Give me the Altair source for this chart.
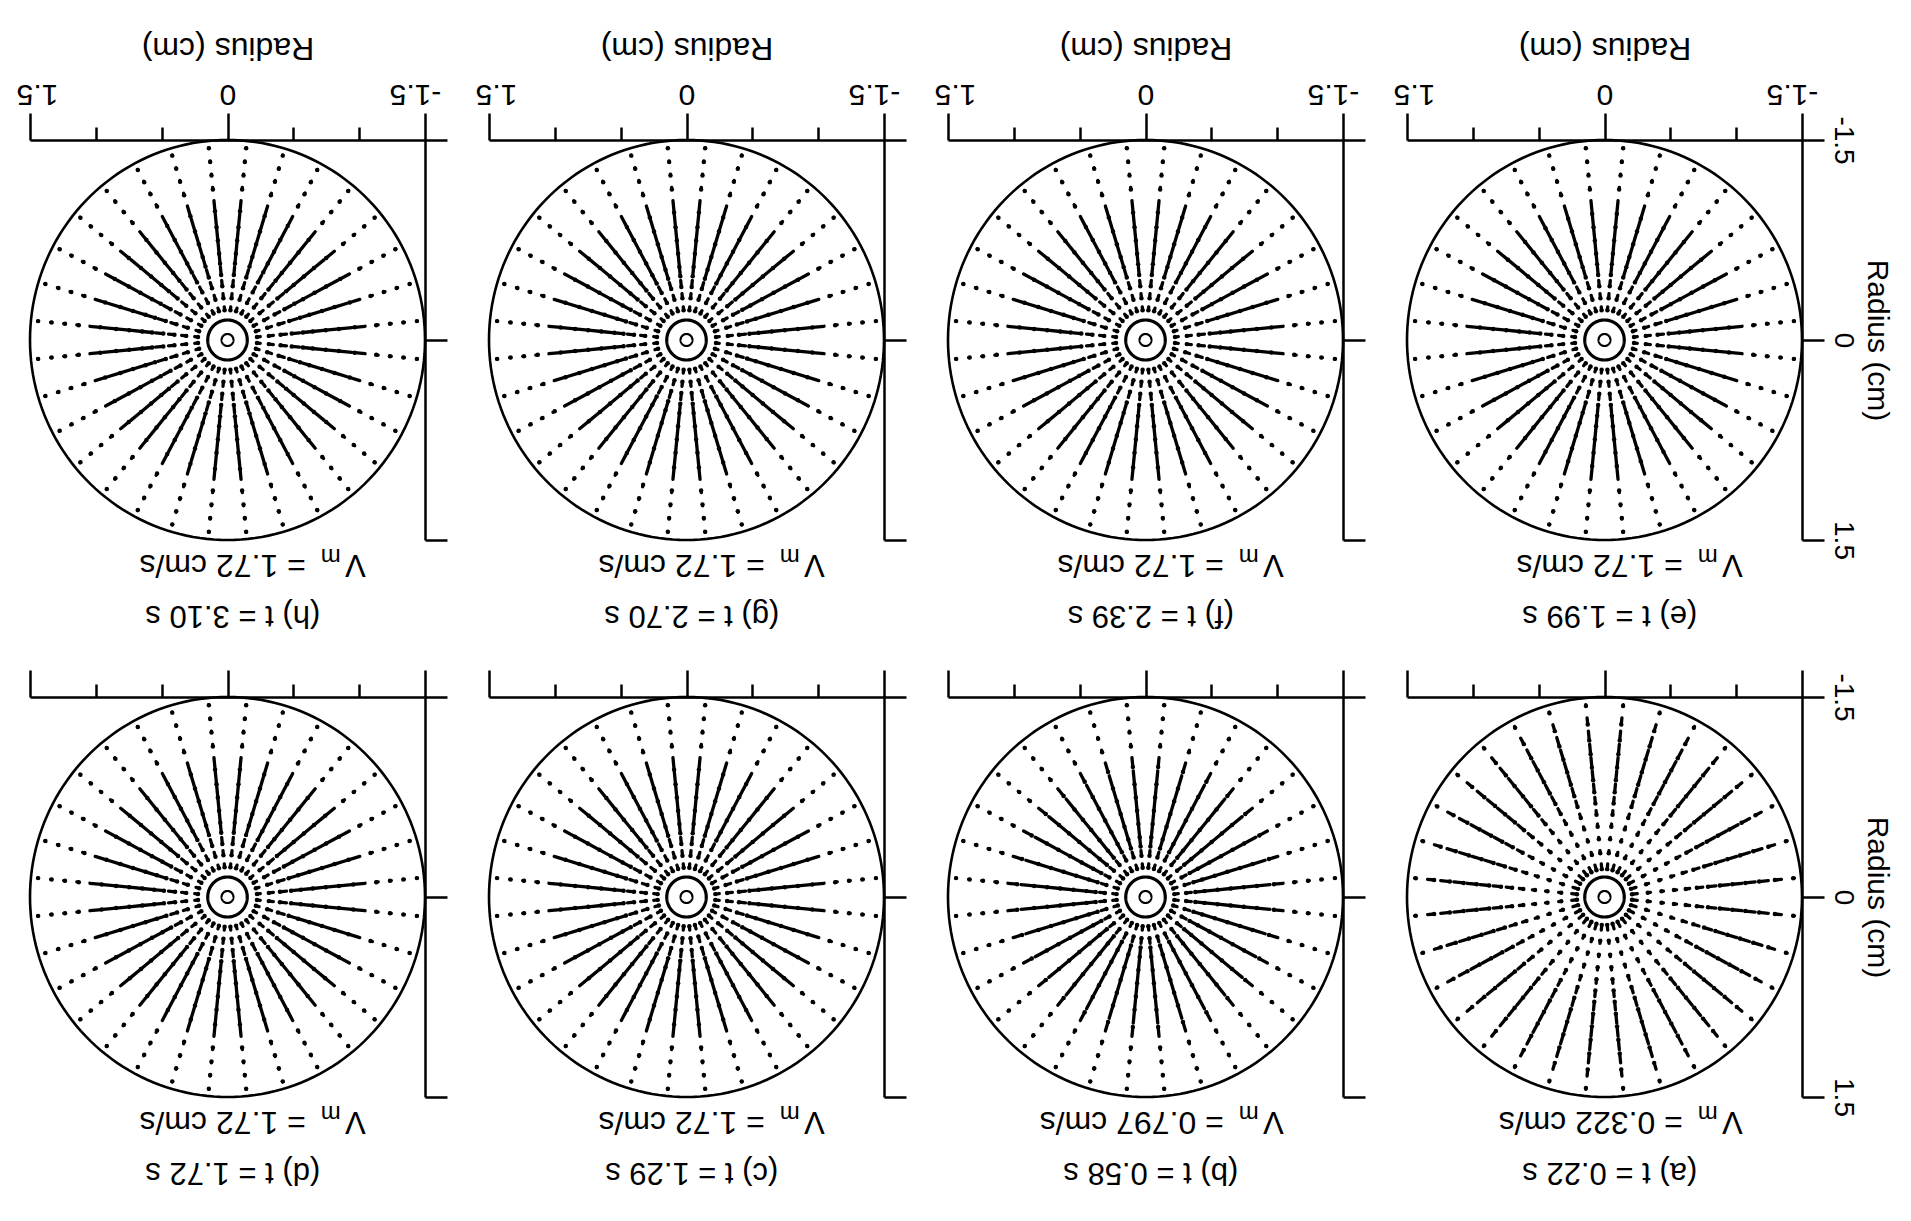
import math
import altair as alt
import pandas as pd

FONT = "Liberation Sans"

# ---------------- data ----------------
PANEL_IDS = ["h", "g", "f", "e", "d", "c", "b", "a"]          # grid order: top row, then bottom row
TIMES = ["3.10", "2.70", "2.39", "1.99", "1.72", "1.29", "0.58", "0.22"]
VMAX = ["1.72", "1.72", "1.72", "1.72", "1.72", "1.72", "0.797", "0.322"]

# radial grid positions (cm) of the velocity vectors and ray directions (deg)
GRID_R = [0.25, 0.35, 0.45, 0.55, 0.65, 0.75, 0.85, 0.95, 1.05, 1.15, 1.25, 1.35, 1.45]
RAY_DEG = [5.625 + 11.25 * k for k in range(32)]

# drawn vector length (cm) at each grid radius, per panel
VEC_A = [0.04, 0.02, 0.015, 0.02, 0.03, 0.045, 0.06, 0.07, 0.075, 0.075, 0.07, 0.05, 0.01]
VEC_B = [0.03, 0.04, 0.07, 0.10, 0.10, 0.10, 0.10, 0.10, 0.07, 0.015, 0.01, 0.008, 0.005]
VEC_C = [0.03, 0.04, 0.05, 0.07, 0.10, 0.10, 0.10, 0.10, 0.09, 0.015, 0.01, 0.008, 0.005]
VEC_D = [0.025, 0.035, 0.05, 0.065, 0.09, 0.10, 0.10, 0.10, 0.09, 0.015, 0.01, 0.008, 0.005]
VEC_E = [0.025, 0.035, 0.045, 0.06, 0.08, 0.10, 0.10, 0.10, 0.10, 0.015, 0.01, 0.008, 0.005]
VEC_F = [0.025, 0.035, 0.045, 0.06, 0.08, 0.10, 0.10, 0.10, 0.09, 0.015, 0.01, 0.008, 0.005]
VEC_G = [0.025, 0.035, 0.05, 0.07, 0.10, 0.10, 0.10, 0.10, 0.09, 0.015, 0.01, 0.008, 0.005]
VEC_H = [0.025, 0.035, 0.045, 0.06, 0.075, 0.10, 0.10, 0.10, 0.08, 0.015, 0.01, 0.008, 0.005]
VEC_LEN = {"a": VEC_A, "b": VEC_B, "c": VEC_C, "d": VEC_D,
           "e": VEC_E, "f": VEC_F, "g": VEC_G, "h": VEC_H}

R_WALL = 1.5     # container radius (cm)
R_RING = 0.15    # inner ring radius (cm)
R_HOLE = 0.045   # central hole radius (cm)

X_MAJOR = [-1.5, 0.0, 1.5]
X_MINOR = [-1.0, -0.5, 0.5, 1.0]
Y_TICKS = [-1.5, 0.0, 1.5]
AXIS_TITLE = "Radius (cm)"

# ---------------- chart ----------------
W, H = 395, 400
xs = alt.Scale(domain=[-1.5, 1.5], reverse=True, nice=False, zero=False)
ys = alt.Scale(domain=[-1.5, 1.5], reverse=True, nice=False, zero=False)
LABEL_EXPR = "'' + datum.value"

# end labels of the x axis sit slightly inward of their ticks
X_LABEL_OFFSET = {
    "condition": [
        {"test": "datum.value == 1.5", "value": 7},
        {"test": "datum.value == -1.5", "value": -10},
    ],
    "value": 0,
}


def x_major_axis(top_row):
    kw = dict(orient="top", values=X_MAJOR, tickSize=27, tickWidth=2.5, tickColor="black",
              domain=True, domainWidth=2.5, domainColor="black", grid=False,
              labels=top_row, labelExpr=LABEL_EXPR, labelAngle=180, labelAlign="center",
              labelBaseline="top", labelFontSize=30, labelFont=FONT, labelColor="black",
              labelPadding=5, labelFlush=False, labelOverlap=False, labelOffset=X_LABEL_OFFSET,
              titleAngle=180, titleBaseline="top", titleFontSize=32, titleFont=FONT,
              titleFontWeight="normal", titleColor="black", titlePadding=16)
    kw["title"] = AXIS_TITLE if top_row else None
    return alt.Axis(**kw)


def x_minor_axis():
    return alt.Axis(orient="top", values=X_MINOR, tickSize=13, tickWidth=2.5, tickColor="black",
                    domain=False, labels=False, grid=False, title=None)


def y_axis(right_col):
    kw = dict(orient="right", values=Y_TICKS, tickSize=22, tickWidth=2.5, tickColor="black",
              domain=True, domainWidth=2.5, domainColor="black", grid=False,
              labels=right_col, labelExpr=LABEL_EXPR, labelAngle=90, labelAlign="center",
              labelBaseline="bottom", labelFontSize=28, labelFont=FONT, labelColor="black",
              labelPadding=4, labelFlush=False, labelOverlap=False,
              titleAngle=90, titleBaseline="bottom", titleFontSize=30, titleFont=FONT,
              titleFontWeight="normal", titleColor="black", titlePadding=5)
    kw["title"] = AXIS_TITLE if right_col else None
    return alt.Axis(**kw)


def circle_layer(radius, width, x_axis=None):
    return alt.Chart(alt.sequence(0, 362, 2, as_="deg")).transform_calculate(
        cx=f"{radius} * cos(datum.deg * PI / 180)",
        cy=f"{radius} * sin(datum.deg * PI / 180)",
    ).mark_line(color="black", strokeWidth=width).encode(
        x=alt.X("cx:Q", scale=xs, axis=x_axis),
        y=alt.Y("cy:Q", scale=ys, axis=None),
        order=alt.Order("deg:Q"),
    )


def panel(idx):
    pid = PANEL_IDS[idx]
    top_row = idx < 4
    right_col = idx % 4 == 3
    lens = VEC_LEN[pid]
    rows = []
    for deg in RAY_DEG:
        th = math.radians(deg)
        c, s = math.cos(th), math.sin(th)
        for r, L in zip(GRID_R, lens):
            rows.append({"x0": r * c, "y0": r * s, "x1": (r - L) * c, "y1": (r - L) * s})
    vec = pd.DataFrame(rows)

    vec_lines = alt.Chart(vec).mark_rule(color="black", strokeWidth=3.3, strokeCap="round").encode(
        x=alt.X("x0:Q", scale=xs, axis=x_major_axis(top_row)),
        y=alt.Y("y0:Q", scale=ys, axis=y_axis(right_col)),
        x2="x1:Q", y2="y1:Q",
    )
    vec_heads = alt.Chart(vec).mark_circle(color="black", size=20, opacity=1).encode(
        x=alt.X("x1:Q", scale=xs, axis=None),
        y=alt.Y("y1:Q", scale=ys, axis=None),
    )

    wall = circle_layer(R_WALL, 2.6, x_minor_axis())
    ring = circle_layer(R_RING, 3.2)
    hole = circle_layer(R_HOLE, 2.2)

    tdf = pd.DataFrame({"x": [-0.04], "y": [2.06], "label": [f"({pid}) t = {TIMES[idx]} s"]})
    t_text = alt.Chart(tdf).mark_text(angle=180, align="center", baseline="middle",
                                      fontSize=31, font=FONT, color="black").encode(
        x=alt.X("x:Q", scale=xs, axis=None), y=alt.Y("y:Q", scale=ys, axis=None), text="label:N")

    vdf = pd.DataFrame({"x": [-1.05], "y": [1.61], "v": ["V"], "m": ["m"],
                        "rest": [f"= {VMAX[idx]} cm/s"]})
    enc = dict(x=alt.X("x:Q", scale=xs, axis=None), y=alt.Y("y:Q", scale=ys, axis=None))
    v_text = alt.Chart(vdf).mark_text(angle=180, align="left", baseline="alphabetic",
                                      fontSize=31, font=FONT, color="black").encode(text="v:N", **enc)
    m_text = alt.Chart(vdf).mark_text(angle=180, align="left", baseline="alphabetic",
                                      fontSize=24, font=FONT, color="black", dx=25, dy=6).encode(text="m:N", **enc)
    r_text = alt.Chart(vdf).mark_text(angle=180, align="left", baseline="alphabetic",
                                      fontSize=32, font=FONT, color="black", dx=60).encode(text="rest:N", **enc)

    return alt.layer(vec_lines, wall, ring, hole, vec_heads, t_text, v_text, m_text, r_text).resolve_axis(
        x="independent", y="independent").properties(width=W, height=H)


panels = [panel(i) for i in range(8)]

chart = alt.concat(*panels, columns=4, spacing={"row": 37, "column": 26}, align="each").properties(
    padding={"left": 8, "top": 22, "right": 2, "bottom": 2}, background="white"
).configure_view(stroke=None)

chart.save("out.html", embed_options={"renderer": "svg", "actions": False})
